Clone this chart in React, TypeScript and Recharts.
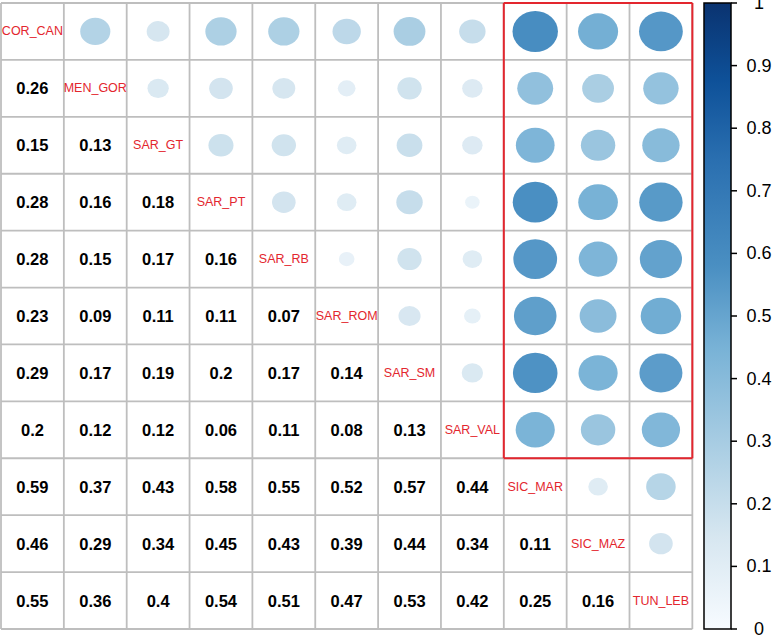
import React from 'react';
import { ScatterChart, Scatter, XAxis, YAxis, ReferenceLine, ReferenceArea } from 'recharts';

const labels = ['COR_CAN', 'MEN_GOR', 'SAR_GT', 'SAR_PT', 'SAR_RB', 'SAR_ROM', 'SAR_SM', 'SAR_VAL', 'SIC_MAR', 'SIC_MAZ', 'TUN_LEB'];

// lower triangle values, row i holds correlations with columns 0..i-1
const lowerRows: number[][] = [
  [],
  [0.26],
  [0.15, 0.13],
  [0.28, 0.16, 0.18],
  [0.28, 0.15, 0.17, 0.16],
  [0.23, 0.09, 0.11, 0.11, 0.07],
  [0.29, 0.17, 0.19, 0.2, 0.17, 0.14],
  [0.2, 0.12, 0.12, 0.06, 0.11, 0.08, 0.13],
  [0.59, 0.37, 0.43, 0.58, 0.55, 0.52, 0.57, 0.44],
  [0.46, 0.29, 0.34, 0.45, 0.43, 0.39, 0.44, 0.34, 0.11],
  [0.55, 0.36, 0.4, 0.54, 0.51, 0.47, 0.53, 0.42, 0.25, 0.16],
];

const colorbarTicks = [0, 0.1, 0.2, 0.3, 0.4, 0.5, 0.6, 0.7, 0.8, 0.9, 1];
const paletteStops: [number, string][] = [
  [0, '#F7FBFF'],
  [0.15, '#D6E6F0'],
  [0.26, '#B3D3E6'],
  [0.45, '#78B2D6'],
  [0.58, '#4A8FC2'],
  [0.75, '#2A6FB0'],
  [0.875, '#0E5199'],
  [1, '#0A3370'],
];

const N = labels.length;
const W = 775;
const H = 636;
const M = { top: 3, right: 0, bottom: 7, left: 1 };
const CB_AXIS_W = 44;
const PLOT_W = W - M.left - M.right - CB_AXIS_W;
const PLOT_H = H - M.top - M.bottom;
const CELL_W = 62.85;
const CELL_H = PLOT_H / N;
const XMAX = PLOT_W / CELL_W;
const CB_X1 = (704 - M.left) / CELL_W;

const hexToRgb = (h: string) => [1, 3, 5].map((i) => parseInt(h.slice(i, i + 2), 16));
const colorFor = (v: number) => {
  const t = Math.max(0, Math.min(1, v));
  let i = 0;
  while (i < paletteStops.length - 2 && t > paletteStops[i + 1][0]) i++;
  const [t0, c0] = paletteStops[i];
  const [t1, c1] = paletteStops[i + 1];
  const f = (t - t0) / (t1 - t0);
  const a = hexToRgb(c0);
  const b = hexToRgb(c1);
  const c = a.map((av, k) => Math.round(av + (b[k] - av) * f));
  return `rgb(${c[0]},${c[1]},${c[2]})`;
};

const lowerData: { x: number; y: number; v: number }[] = [];
const upperData: { x: number; y: number; v: number }[] = [];
lowerRows.forEach((row, i) =>
  row.forEach((v, j) => {
    lowerData.push({ x: j + 0.5, y: i + 0.5, v });
    upperData.push({ x: i + 0.5, y: j + 0.5, v });
  })
);
const diagData = labels.map((l, i) => ({ x: i + 0.5, y: i + 0.5, label: l }));
const cbData = colorbarTicks.map((t) => ({ x: XMAX, cb: t }));

const gridIdx = Array.from({ length: N + 1 }, (_, k) => k);
const FONT = 'Liberation Sans, Arial, Helvetica, sans-serif';
const RED = '#E3262E';

const NumberShape = (p: any) => (
  <text
    x={p.cx}
    y={p.cy}
    textAnchor="middle"
    dominantBaseline="central"
    fontFamily={FONT}
    fontWeight="bold"
    fontSize={16.5}
    fill="#000"
  >
    {String(p.payload.v)}
  </text>
);

const CircleShape = (p: any) => {
  const v = p.payload.v;
  const d = 0.94 * Math.sqrt(v);
  return <ellipse cx={p.cx} cy={p.cy} rx={(d * CELL_W) / 2} ry={(d * CELL_H) / 2} fill={colorFor(v)} />;
};

const LabelShape = (p: any) => (
  <text
    x={p.cx}
    y={p.cy}
    textAnchor="middle"
    dominantBaseline="central"
    fontFamily={FONT}
    fontSize={12.5}
    fill={RED}
  >
    {p.payload.label}
  </text>
);

const NullShape = () => <g />;

const CbTick = (p: any) => (
  <text
    x={p.x + 22}
    y={p.y}
    textAnchor="middle"
    dominantBaseline="central"
    fontFamily={FONT}
    fontSize={18}
    fill="#000"
  >
    {String(p.payload.value)}
  </text>
);

export default function App() {
  return (
    <div style={{ position: 'absolute', left: 0, top: 0, background: '#fff' }}>
      <ScatterChart width={W} height={H} margin={M}>
        <defs>
          <linearGradient id="cbGrad" x1="0" y1="1" x2="0" y2="0">
            {paletteStops.map(([o, c], i) => (
              <stop key={i} offset={o} stopColor={c} />
            ))}
          </linearGradient>
        </defs>
        <XAxis type="number" dataKey="x" domain={[0, XMAX]} hide allowDataOverflow />
        <YAxis yAxisId="m" type="number" dataKey="y" domain={[0, N]} reversed hide allowDataOverflow />
        <YAxis
          yAxisId="cb"
          dataKey="cb"
          orientation="right"
          type="number"
          domain={[0, 1]}
          ticks={colorbarTicks}
          width={CB_AXIS_W}
          axisLine={false}
          tickLine={{ stroke: '#000', strokeWidth: 1.5 }}
          tickSize={6}
          tickMargin={0}
          tick={CbTick}
          interval={0}
          allowDataOverflow
        />
        <ReferenceArea
          yAxisId="cb"
          x1={CB_X1}
          x2={XMAX}
          y1={0}
          y2={1}
          fill="url(#cbGrad)"
          fillOpacity={1}
          stroke="#000"
          strokeWidth={1.5}
          ifOverflow="visible"
        />
        {gridIdx.map((k) => (
          <ReferenceLine key={'v' + k} yAxisId="m" x={k} stroke="#BEBEBE" strokeWidth={1.8} ifOverflow="visible" />
        ))}
        {gridIdx.map((k) => (
          <ReferenceLine
            key={'h' + k}
            yAxisId="m"
            segment={[{ x: 0, y: k }, { x: N, y: k }]}
            stroke="#BEBEBE"
            strokeWidth={1.8}
            ifOverflow="visible"
          />
        ))}
        <ReferenceLine yAxisId="m" segment={[{ x: 8, y: 0 }, { x: 11, y: 0 }]} stroke={RED} strokeWidth={2} ifOverflow="visible" />
        <ReferenceLine yAxisId="m" segment={[{ x: 8, y: 8 }, { x: 11, y: 8 }]} stroke={RED} strokeWidth={2} ifOverflow="visible" />
        <ReferenceLine yAxisId="m" segment={[{ x: 8, y: 0 }, { x: 8, y: 8 }]} stroke={RED} strokeWidth={2} ifOverflow="visible" />
        <ReferenceLine yAxisId="m" segment={[{ x: 11, y: 0 }, { x: 11, y: 8 }]} stroke={RED} strokeWidth={2} ifOverflow="visible" />
        <Scatter yAxisId="cb" data={cbData} shape={NullShape} isAnimationActive={false} />
        <Scatter yAxisId="m" data={lowerData} shape={NumberShape} isAnimationActive={false} />
        <Scatter yAxisId="m" data={upperData} shape={CircleShape} isAnimationActive={false} />
        <Scatter yAxisId="m" data={diagData} shape={LabelShape} isAnimationActive={false} />
      </ScatterChart>
    </div>
  );
}
